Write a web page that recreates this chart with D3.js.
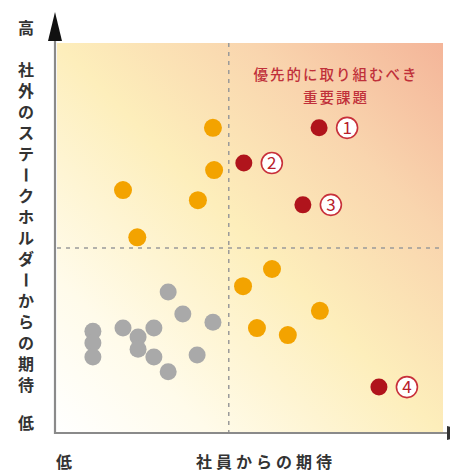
<!DOCTYPE html>
<html><head><meta charset="utf-8">
<script src="https://cdn.jsdelivr.net/npm/d3@7"></script>
<style>body{margin:0;background:#fff}svg{display:block}</style>
</head><body><svg id="c" width="450" height="473"></svg>
<script>
// ---- data (scores 0–10 on both axes) ----
const orangeX = [4.04, 4.07, 1.71, 3.65, 2.08, 5.57, 4.82, 6.81, 5.18, 5.98];
const orangeY = [7.83, 6.75, 6.24, 5.98, 5.03, 4.22, 3.78, 3.15, 2.71, 2.53];
const grayX = [2.88, 3.26, 4.04, 0.93, 0.93, 0.93, 1.71, 2.10, 2.10, 2.51, 2.51, 2.88, 3.63];
const grayY = [3.63, 3.07, 2.86, 2.63, 2.33, 1.97, 2.71, 2.48, 2.17, 2.71, 1.97, 1.59, 2.02];
const priorityX = [6.79, 4.84, 6.37, 8.34];
const priorityY = [7.83, 6.93, 5.86, 1.20];
const priorityLabels = ["1", "2", "3", "4"];
const dividerX = 4.45, dividerY = 4.76;
const yAxisTitle = "社外のステークホルダーからの期待";
const xAxisTitle = "社員からの期待";
const highLabel = "高", lowLabel = "低";
const calloutLines = ["優先的に取り組むべき", "重要課題"];

const svg = d3.select("#c");
const font = "'Noto Sans CJK JP','Noto Sans',sans-serif";
const x = d3.scaleLinear().domain([0, 10]).range([57, 443]);
const y = d3.scaleLinear().domain([0, 10]).range([434, 43]);

// background gradient
const defs = svg.append("defs");
const g = defs.append("linearGradient").attr("id", "bg")
  .attr("x1", 0).attr("y1", 1).attr("x2", 1).attr("y2", 0);
[[0, "#ffffff"], [0.2, "#fffbea"], [0.5, "#fdeebb"], [0.75, "#f9d5ae"], [1, "#f4b599"]]
  .forEach(([o, c]) => g.append("stop").attr("offset", o).attr("stop-color", c));
svg.append("rect").attr("x", x(0)).attr("y", y(10))
  .attr("width", x(10) - x(0)).attr("height", y(0) - y(10)).attr("fill", "url(#bg)");

// dashed dividers
svg.append("line").attr("x1", x(0)).attr("x2", x(10)).attr("y1", y(dividerY)).attr("y2", y(dividerY))
  .attr("stroke", "#9a9a9a").attr("stroke-width", 1.5).attr("stroke-dasharray", "4,5");
svg.append("line").attr("x1", x(dividerX)).attr("x2", x(dividerX)).attr("y1", y(10)).attr("y2", y(0))
  .attr("stroke", "#9a9a9a").attr("stroke-width", 1.5).attr("stroke-dasharray", "4,5");

// axes
svg.append("line").attr("x1", 55).attr("x2", 55).attr("y1", 38).attr("y2", 434)
  .attr("stroke", "#8a8a8a").attr("stroke-width", 2.2);
svg.append("line").attr("x1", 54).attr("x2", 447).attr("y1", 433).attr("y2", 433)
  .attr("stroke", "#8a8a8a").attr("stroke-width", 2.2);
svg.append("path").attr("d", "M55,12 L48,41 L62,41 Z").attr("fill", "#111");
svg.append("path").attr("d", "M447,426 L475,433 L447,440 Z").attr("fill", "#333");

// points
svg.append("g").selectAll("circle").data(grayX.map((v, i) => [v, grayY[i]])).join("circle")
  .attr("cx", d => x(d[0])).attr("cy", d => y(d[1])).attr("r", 8.5).attr("fill", "#a9a9a9");
svg.append("g").selectAll("circle").data(orangeX.map((v, i) => [v, orangeY[i]])).join("circle")
  .attr("cx", d => x(d[0])).attr("cy", d => y(d[1])).attr("r", 9).attr("fill", "#f3a300");
const pr = svg.append("g").selectAll("g").data(priorityX.map((v, i) => [v, priorityY[i], priorityLabels[i]])).join("g")
  .attr("transform", d => `translate(${x(d[0])},${y(d[1])})`);
pr.append("circle").attr("r", 8.5).attr("fill", "#b0141c");
pr.append("circle").attr("cx", 28).attr("r", 10.5).attr("fill", "#fff")
  .attr("stroke", "#c8303a").attr("stroke-width", 1.6);
pr.append("text").attr("x", 28).attr("y", 6).attr("text-anchor", "middle")
  .attr("font-family", font).attr("font-size", 17).attr("fill", "#b8202a").text(d => d[2]);

// callout
svg.append("g").selectAll("text").data(calloutLines).join("text")
  .attr("x", 336).attr("y", (d, i) => 80 + i * 23).attr("text-anchor", "middle")
  .attr("font-family", font).attr("font-size", 14.5).attr("font-weight", 500)
  .attr("letter-spacing", 2).attr("fill", "#c0303a").text(d => d);

// axis labels
const lab = (t, px, py) => svg.append("text").attr("x", px).attr("y", py).attr("text-anchor", "middle")
  .attr("font-family", font).attr("font-size", 16).attr("font-weight", 700).attr("fill", "#333").text(t);
lab(highLabel, 26, 34);
lab(lowLabel, 26, 429);
lab(lowLabel, 64, 468);
svg.append("text").attr("x", 266).attr("y", 468).attr("text-anchor", "middle")
  .attr("font-family", font).attr("font-size", 16).attr("font-weight", 700).attr("letter-spacing", 4)
  .attr("fill", "#333").text(xAxisTitle);

// vertical y title, one glyph per line
const chars = Array.from(yAxisTitle);
svg.append("g").selectAll("text").data(chars).join("text")
  .attr("transform", (d, i) => {
    const cy = 70 + i * 21;
    return d === "ー" ? `translate(26,${cy}) rotate(90)` : `translate(26,${cy})`;
  })
  .attr("y", 6).attr("text-anchor", "middle")
  .attr("font-family", font).attr("font-size", 16).attr("font-weight", 700).attr("fill", "#333")
  .text(d => d);
</script></body></html>
